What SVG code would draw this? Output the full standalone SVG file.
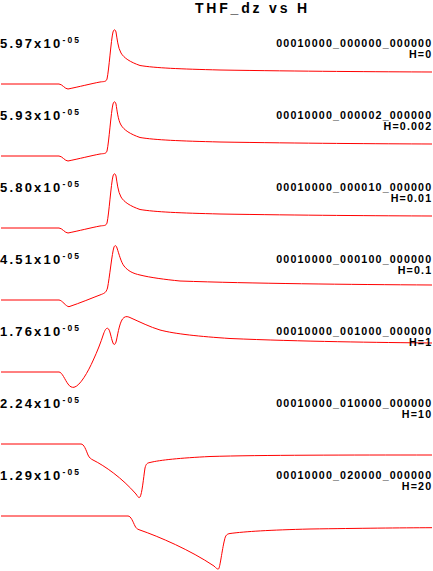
<svg xmlns="http://www.w3.org/2000/svg" width="433" height="571" viewBox="0 0 433 571">
<style>
.t{font-family:"Liberation Sans",Arial,sans-serif;font-weight:bold;fill:#000}
.title{font-size:14px;letter-spacing:2.8px}
.sc{font-size:13px;letter-spacing:2.2px}
.sup{font-size:8.5px;letter-spacing:2.2px}
.code{font-size:10.7px;letter-spacing:1.15px;text-anchor:end}
.h{font-size:10.7px;letter-spacing:1.15px;text-anchor:end}
.c{fill:none;stroke:#ff0000;stroke-width:1}
</style>
<rect width="433" height="571" fill="#fff"/>
<text id="title" class="t title" x="195" y="13">THF_dz vs H</text>
<defs>
<path id="c1" class="c" d="M1,84 L59,84 C62,84 65,89 68,89 C78,87 92,83.5 100,82 C104,81.4 106,82 107,79 C109,70 111,40 113,32 C114,29 115,29 116,32 C117,38 118,48 121,53 C124,58 130,62 140,65.5 C155,68 180,69 220,70 C300,71.3 380,71.8 432,72"/>
</defs>
<g id="panel1">
<use href="#c1"/>
<text class="t sc" x="0" y="48">5.97x10<tspan class="sup" dy="-5.5">-05</tspan></text>
<text class="t code" x="432.3" y="47">00010000_000000_000000</text>
<text class="t h" x="432.3" y="57.5">H=0</text>
</g>
<g id="panel2" transform="translate(0,72)">
<use href="#c1"/>
<text class="t sc" x="0" y="48">5.93x10<tspan class="sup" dy="-5.5">-05</tspan></text>
<text class="t code" x="432.3" y="47">00010000_000002_000000</text>
<text class="t h" x="432.3" y="57.5">H=0.002</text>
</g>
<g id="panel3" transform="translate(0,144)">
<use href="#c1"/>
<text class="t sc" x="0" y="48">5.80x10<tspan class="sup" dy="-5.5">-05</tspan></text>
<text class="t code" x="432.3" y="47">00010000_000010_000000</text>
<text class="t h" x="432.3" y="57.5">H=0.01</text>
</g>
<g id="panel4">
<path class="c" d="M1,300 L59,300 C62,300 66,306.7 69,306.7 C80,303 92,298 101.7,294.3 C104,293.3 106,293 107.5,288 C109.5,278 112,253 114,247 C115,245 116,245 117,248 C119,254 121,262 124,266 C128,271 133,273.5 140,275 C150,277.5 165,279.5 180,281 C250,283.5 350,284.5 432,285"/>
<text class="t sc" x="0" y="264">4.51x10<tspan class="sup" dy="-5.5">-05</tspan></text>
<text class="t code" x="432.3" y="263">00010000_000100_000000</text>
<text class="t h" x="432.3" y="273.5">H=0.1</text>
</g>
<g id="panel5">
<path class="c" d="M1,372 L59,372 C62,372 65,380 68,384 C70,387 72,387.5 74,387.3 C80,386 88,372 93.3,360 C97,352 101,342 103.5,334 C105,330 106,328 107.7,328.3 C110,329 111,338 113,343 C114,345.5 115.5,345 116.5,340 C118,333 120,320 124,317.5 C126,316 128,316.5 131,318 C140,322 150,327 160,330 C175,334 200,336.5 230,338.5 C300,341.5 380,342.5 432,343"/>
<text class="t sc" x="0" y="336">1.76x10<tspan class="sup" dy="-5.5">-05</tspan></text>
<text class="t code" x="432.3" y="335">00010000_001000_000000</text>
<text class="t h" x="432.3" y="345.5">H=1</text>
</g>
<g id="panel6">
<path class="c" d="M1,444 L81,444 C84,444 86,450 88,455 C89.5,458 91,459 93,460 C105,466 122,478 136,494 C138,497 139,498.5 140,497 C142,494 143.5,478 145,468 C146,464 147,463 150,462.5 C160,460 180,458 210,456.5 C260,455 350,455 432,455"/>
<text class="t sc" x="0" y="408">2.24x10<tspan class="sup" dy="-5.5">-05</tspan></text>
<text class="t code" x="432.3" y="407">00010000_010000_000000</text>
<text class="t h" x="432.3" y="417.5">H=10</text>
</g>
<g id="panel7">
<path class="c" d="M1,516 L128,516 C131,516 133,522 135,526 C136,528 137,529 139,529.7 C160,537 190,550 214,566 C216,568 217.5,569.5 218.5,569 C220,568 222,550 224.5,540 C225.5,535 227,534 230,533.5 C245,531.5 270,530 310,529 C360,528.3 400,527.8 432,527.7"/>
<text class="t sc" x="0" y="480">1.29x10<tspan class="sup" dy="-5.5">-05</tspan></text>
<text class="t code" x="432.3" y="479">00010000_020000_000000</text>
<text class="t h" x="432.3" y="489.5">H=20</text>
</g>
<g id="connectors"/>
</svg>
